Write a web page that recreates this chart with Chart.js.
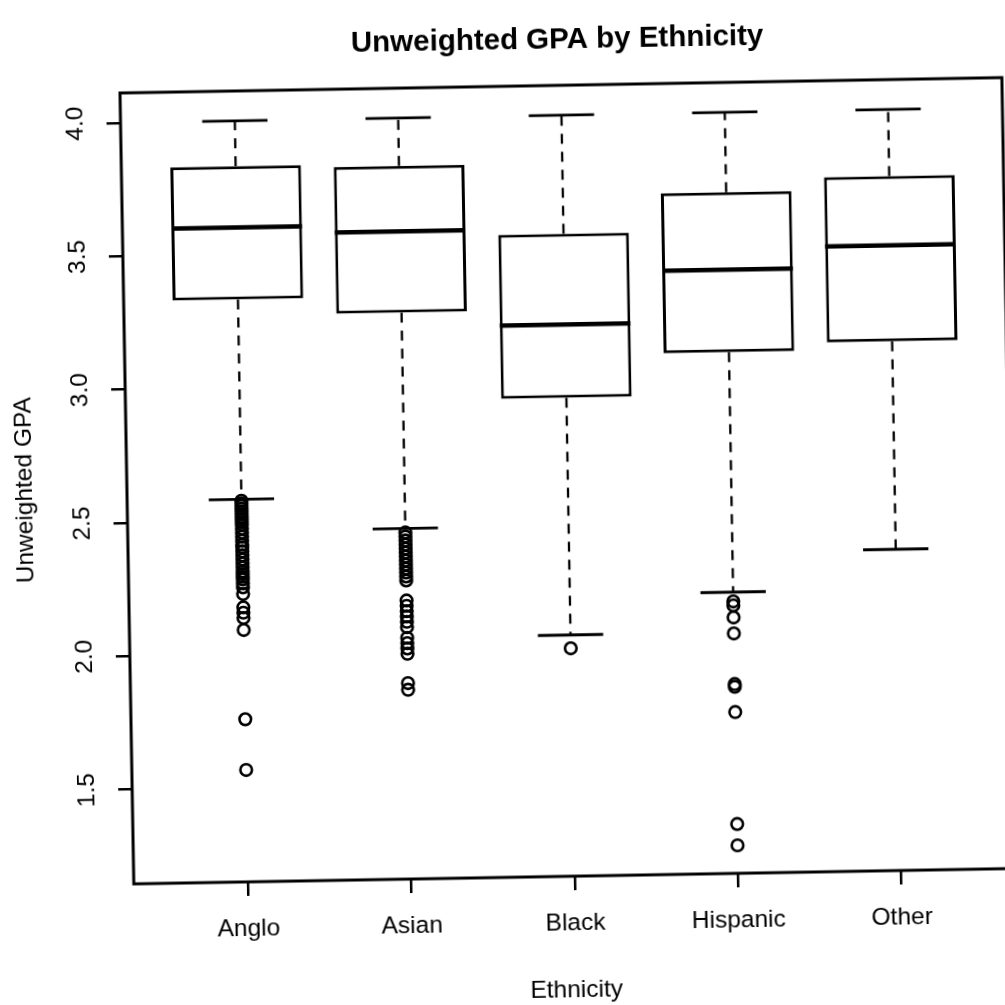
<!DOCTYPE html>
<html>
<head>
<meta charset="utf-8">
<script src="https://cdn.jsdelivr.net/npm/chart.js@4/dist/chart.umd.min.js"></script>
<style>
  html, body { margin: 0; padding: 0; background: #fff; overflow: hidden; width: 1005px; height: 1005px; }
  /* the reference is a slightly tilted scan */
  #wrap { position: absolute; left: 0; top: 0; width: 1040px; height: 1020px; transform-origin: 120px 93px; transform: rotate(-1deg); }
</style>
</head>
<body>
<div id="wrap"><canvas id="gpaChart" width="1040" height="1020"></canvas></div>
<script>
const categories = ['Anglo', 'Asian', 'Black', 'Hispanic', 'Other'];
const whiskerLow = [2.58, 2.46, 2.05, 2.20, 2.35];
const q1 = [3.33, 3.27, 2.94, 3.10, 3.13];
const medians = [3.60, 3.575, 3.215, 3.41, 3.49];
const q3 = [3.83, 3.82, 3.555, 3.70, 3.75];
const whiskerHigh = [4.0, 4.0, 4.0, 4.0, 4.0];

const outliersAnglo = [2.575, 2.565, 2.555, 2.545, 2.535, 2.525, 2.515, 2.505, 2.495, 2.485, 2.47, 2.455,
  2.44, 2.425, 2.41, 2.40, 2.385, 2.37, 2.355, 2.34, 2.325, 2.31, 2.30, 2.29, 2.28, 2.265, 2.25,
  2.225, 2.175, 2.155, 2.135, 2.09, 1.755, 1.565];
const outliersAsian = [2.445, 2.43, 2.415, 2.40, 2.385, 2.37, 2.355, 2.34, 2.325, 2.31, 2.295, 2.28, 2.265,
  2.19, 2.17, 2.15, 2.13, 2.11, 2.09, 2.05, 2.03, 2.01, 1.99, 1.88, 1.855];
const outliersBlack = [2.0];
const outliersHispanic = [2.165, 2.15, 2.105, 2.045, 1.855, 1.845, 1.75, 1.33, 1.25];
const outliersOther = [];
const outliers = [outliersAnglo, outliersAsian, outliersBlack, outliersHispanic, outliersOther];

const xTicks = [1, 2, 3, 4, 5];
const yTicks = [1.5, 2.0, 2.5, 3.0, 3.5, 4.0];

const FONT = '"Liberation Sans", Arial, Helvetica, sans-serif';
Chart.defaults.font.family = FONT;
Chart.defaults.color = '#000';

const boxWidth = 0.8;   // boxwex, in category units

// whiskers, staples, medians, frame, y labels and title
const boxExtras = {
  id: 'boxExtras',
  afterDatasetsDraw(chart) {
    const { ctx, chartArea } = chart;
    const xs = chart.scales.x;
    const ys = chart.scales.y;
    const seg = (x1, y1, x2, y2) => {
      ctx.beginPath();
      ctx.moveTo(x1, y1);
      ctx.lineTo(x2, y2);
      ctx.stroke();
    };
    ctx.save();
    ctx.strokeStyle = '#000';
    ctx.lineCap = 'butt';
    categories.forEach((c, i) => {
      const cx = xs.getPixelForValue(i + 1);
      const half = xs.getPixelForValue(i + 1 + boxWidth / 2) - cx;
      const staple = half / 2;
      ctx.lineWidth = 2.3;
      ctx.setLineDash([10, 8]);
      seg(cx, ys.getPixelForValue(q3[i]), cx, ys.getPixelForValue(whiskerHigh[i]));
      seg(cx, ys.getPixelForValue(q1[i]), cx, ys.getPixelForValue(whiskerLow[i]));
      ctx.setLineDash([]);
      ctx.lineWidth = 2.8;
      seg(cx - staple, ys.getPixelForValue(whiskerHigh[i]), cx + staple, ys.getPixelForValue(whiskerHigh[i]));
      seg(cx - staple, ys.getPixelForValue(whiskerLow[i]), cx + staple, ys.getPixelForValue(whiskerLow[i]));
      ctx.lineWidth = 4.5;
      seg(cx - half, ys.getPixelForValue(medians[i]), cx + half, ys.getPixelForValue(medians[i]));
    });

    ctx.lineWidth = 3;
    ctx.strokeRect(chartArea.left, chartArea.top, chartArea.right - chartArea.left, chartArea.bottom - chartArea.top);

    // y tick labels, parallel to the axis like R does
    ctx.fillStyle = '#000';
    ctx.font = '24.5px ' + FONT;
    ctx.textAlign = 'center';
    ctx.textBaseline = 'middle';
    yTicks.forEach(v => {
      ctx.save();
      ctx.translate(chartArea.left - 45, ys.getPixelForValue(v));
      ctx.rotate(-Math.PI / 2);
      ctx.fillText(v.toFixed(1), 0, 0);
      ctx.restore();
    });

    ctx.font = 'bold 29.5px ' + FONT;
    ctx.fillText('Unweighted GPA by Ethnicity', (chartArea.left + chartArea.right) / 2 - 3, 48);
    ctx.restore();
  }
};

const boxData = categories.map((c, i) => ({ x: i + 1, y: [q1[i], q3[i]] }));
const outlierData = [];
outliers.forEach((list, i) => list.forEach(v => outlierData.push({ x: i + 1, y: v })));

new Chart(document.getElementById('gpaChart'), {
  type: 'bar',
  data: {
    datasets: [
      {
        type: 'scatter',
        label: 'Outliers',
        data: outlierData,
        pointStyle: 'circle',
        pointRadius: 5.8,
        pointBorderWidth: 2.6,
        pointBorderColor: '#000',
        pointBackgroundColor: 'rgba(0,0,0,0)'
      },
      {
        type: 'bar',
        label: 'IQR',
        data: boxData,
        backgroundColor: '#fff',
        borderColor: '#000',
        borderWidth: 3,
        borderSkipped: false,
        barPercentage: boxWidth,
        categoryPercentage: 1.0
      }
    ]
  },
  options: {
    responsive: false,
    animation: false,
    layout: { padding: { top: 93, left: 0, right: 38, bottom: 0 } },
    plugins: {
      legend: { display: false },
      tooltip: { enabled: false },
      title: { display: false }
    },
    scales: {
      x: {
        type: 'linear',
        offset: false,
        min: 0.3,
        max: 5.7,
        afterBuildTicks: scale => { scale.ticks = xTicks.map(v => ({ value: v })); },
        afterFit: scale => { scale.height = 136; },
        ticks: {
          padding: 19,
          font: { size: 24.5 },
          color: '#000',
          maxRotation: 0,
          autoSkip: false,
          callback: v => categories[v - 1]
        },
        grid: {
          display: true,
          offset: false,
          drawOnChartArea: false,
          drawTicks: true,
          tickLength: 14,
          color: '#000',
          lineWidth: 2.5
        },
        border: { display: false },
        title: {
          display: true,
          text: 'Ethnicity',
          font: { size: 24.5 },
          color: '#000',
          padding: { top: 0, bottom: 7 }
        }
      },
      y: {
        type: 'linear',
        min: 1.145,
        max: 4.112,
        beginAtZero: false,
        afterBuildTicks: scale => { scale.ticks = yTicks.map(v => ({ value: v })); },
        afterFit: scale => { scale.width = 120; },
        ticks: { display: false },
        grid: {
          display: true,
          drawOnChartArea: false,
          drawTicks: true,
          tickLength: 14,
          color: '#000',
          lineWidth: 2.5
        },
        border: { display: false },
        title: {
          display: true,
          text: 'Unweighted GPA',
          font: { size: 24.5 },
          color: '#000',
          padding: { top: 4, bottom: 0 }
        }
      }
    }
  },
  plugins: [boxExtras]
});
</script>
</body>
</html>
